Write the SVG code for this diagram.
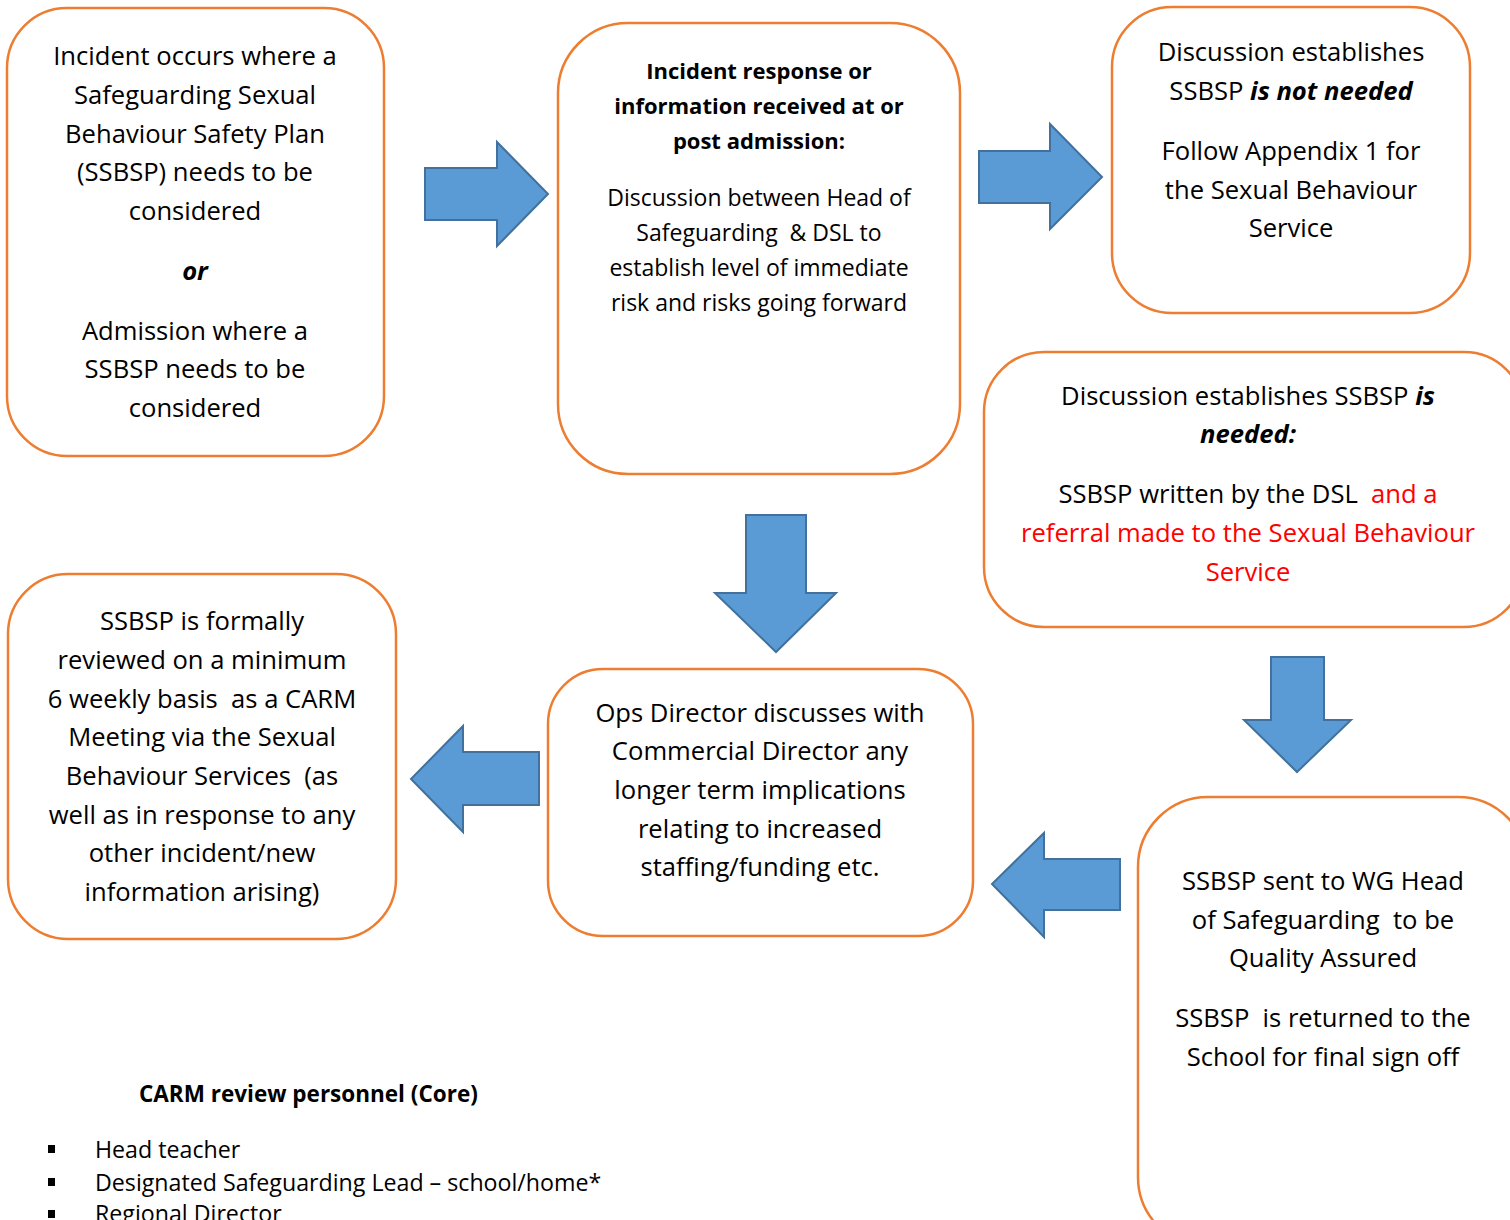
<svg xmlns="http://www.w3.org/2000/svg" width="1510" height="1220" viewBox="0 0 1510 1220">
<style>
.box{fill:#fff;stroke:#ED7D31;stroke-width:2.5}
.arr{fill:#5B9BD5;stroke:#41719C;stroke-width:2}
text{font-family:"Open Sans","Noto Sans",sans-serif;fill:#000;text-anchor:middle}
.t{font-size:25.6px}
.s{font-size:22px}
.m{font-size:23px}
.b{font-weight:bold}
.bi{font-weight:bold;font-style:italic}
.red{fill:#FF0000}
.l{text-anchor:start;font-size:23.2px}
</style>
<rect width="1510" height="1220" fill="#fff"/>
<g id="connectors">
<polygon class="arr" points="425,168 497,168 497,142 548,194 497,246 497,220 425,220"/>
<polygon class="arr" points="979,151 1050,151 1050,124 1102,177 1050,229 1050,203 979,203"/>
<polygon class="arr" points="746,515 806,515 806,593 836,593 776,652 715,593 746,593"/>
<polygon class="arr" points="1271,657 1324,657 1324,720 1351,720 1297,772 1244,720 1271,720"/>
<polygon class="arr" points="1120,859 1044,859 1044,833 992,884 1044,937 1044,910 1120,910"/>
<polygon class="arr" points="539,752 463,752 463,726 411,779 463,832 463,805 539,805"/>
</g>
<g id="n1">
<rect class="box" x="7" y="8" width="377" height="448" rx="60"/>
<text class="t" x="195" y="65">Incident occurs where a</text>
<text class="t" x="195" y="104">Safeguarding Sexual</text>
<text class="t" x="195" y="143">Behaviour Safety Plan</text>
<text class="t" x="195" y="181">(SSBSP) needs to be</text>
<text class="t" x="195" y="220">considered</text>
<text class="t bi" x="195" y="280">or</text>
<text class="t" x="195" y="340">Admission where a</text>
<text class="t" x="195" y="378">SSBSP needs to be</text>
<text class="t" x="195" y="417">considered</text>
</g>
<g id="n2">
<rect class="box" x="558" y="23" width="402" height="451" rx="70"/>
<text class="s b" x="759" y="79">Incident response or</text>
<text class="s b" x="759" y="114">information received at or</text>
<text class="s b" x="759" y="149">post admission:</text>
<text class="m" x="759" y="206">Discussion between Head of</text>
<text class="m" x="759" y="241" xml:space="preserve">Safeguarding  &amp; DSL to</text>
<text class="m" x="759" y="276">establish level of immediate</text>
<text class="m" x="759" y="311">risk and risks going forward</text>
</g>
<g id="n3">
<rect class="box" x="1112" y="7" width="358" height="306" rx="60"/>
<text class="t" x="1291" y="61">Discussion establishes</text>
<text class="t" x="1291" y="100">SSBSP <tspan class="bi">is not needed</tspan></text>
<text class="t" x="1291" y="160">Follow Appendix 1 for</text>
<text class="t" x="1291" y="199">the Sexual Behaviour</text>
<text class="t" x="1291" y="237">Service</text>
</g>
<g id="n4">
<rect class="box" x="984" y="352" width="540" height="275" rx="60"/>
<text class="t" x="1248" y="405">Discussion establishes SSBSP <tspan class="bi">is</tspan></text>
<text class="t bi" x="1248" y="443">needed:</text>
<text class="t" x="1248" y="503" xml:space="preserve">SSBSP written by the DSL  <tspan class="red">and a</tspan></text>
<text class="t red" x="1248" y="542">referral made to the Sexual Behaviour</text>
<text class="t red" x="1248" y="581">Service</text>
</g>
<g id="n5">
<rect class="box" x="8" y="574" width="388" height="365" rx="60"/>
<text class="t" x="202" y="630">SSBSP is formally</text>
<text class="t" x="202" y="669">reviewed on a minimum</text>
<text class="t" x="202" y="708" xml:space="preserve">6 weekly basis  as a CARM</text>
<text class="t" x="202" y="746">Meeting via the Sexual</text>
<text class="t" x="202" y="785" xml:space="preserve">Behaviour Services  (as</text>
<text class="t" x="202" y="824">well as in response to any</text>
<text class="t" x="202" y="862">other incident/new</text>
<text class="t" x="202" y="901">information arising)</text>
</g>
<g id="n6">
<rect class="box" x="548" y="669" width="425" height="267" rx="55"/>
<text class="t" x="760" y="722">Ops Director discusses with</text>
<text class="t" x="760" y="760">Commercial Director any</text>
<text class="t" x="760" y="799">longer term implications</text>
<text class="t" x="760" y="838">relating to increased</text>
<text class="t" x="760" y="876">staffing/funding etc.</text>
</g>
<g id="n7">
<rect class="box" x="1138" y="797" width="390" height="450" rx="70"/>
<text class="t" x="1323" y="890">SSBSP sent to WG Head</text>
<text class="t" x="1323" y="929" xml:space="preserve">of Safeguarding  to be</text>
<text class="t" x="1323" y="967">Quality Assured</text>
<text class="t" x="1323" y="1027" xml:space="preserve">SSBSP  is returned to the</text>
<text class="t" x="1323" y="1066">School for final sign off</text>
</g>
<g id="legend">
<text class="b" x="139" y="1102" style="text-anchor:start;font-size:22.5px">CARM review personnel (Core)</text>
<rect x="48" y="1145" width="7" height="8" fill="#000"/>
<rect x="48" y="1178" width="7" height="8" fill="#000"/>
<rect x="48" y="1210" width="7" height="8" fill="#000"/>
<text class="l" x="95" y="1158">Head teacher</text>
<text class="l" x="95" y="1191">Designated Safeguarding Lead – school/home*</text>
<text class="l" x="95" y="1222">Regional Director</text>
</g>
</svg>
